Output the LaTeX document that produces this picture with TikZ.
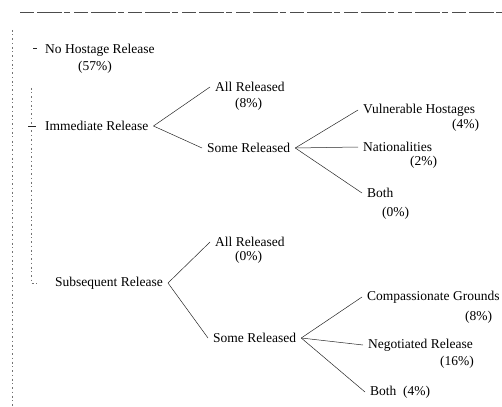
\documentclass[tikz,border=0pt]{standalone}
\usepackage{fontspec}
\setmainfont{Liberation Serif}
\usetikzlibrary{positioning}

\begin{document}
\begin{tikzpicture}
    [
        x=1pt, y=-1pt,
        tree_node/.style={anchor=west, inner xsep=5pt, inner ysep=1pt, font=\fontsize{13.5}{15}\selectfont},
        pct_node/.style={anchor=west, inner sep=0pt, font=\fontsize{13.5}{15}\selectfont},
        tree_line/.style={line width=0.5pt, color=black!85},
        scan_line/.style={line width=0.6pt, color=black!55, dash pattern=on 2pt off 2.5pt on 1pt off 3pt},
        rule_line/.style={line width=0.8pt, color=black!70, dash pattern=on 14pt off 3pt on 25pt off 2pt on 6pt off 4pt},
    ]
        \useasboundingbox (0,0) rectangle (502,406) ;
        \coordinate (ruleL) at (20,12) ;
        \coordinate (ruleR) at (502,12) ;
        \coordinate (edgeT) at (12,30) ;
        \coordinate (edgeB) at (12,406) ;
        \coordinate (brkT) at (31,88) ;
        \coordinate (brkB) at (31,283) ;
        \coordinate (brkE) at (38,283) ;
        \coordinate (tickA) at (33,48) ;
        \coordinate (tickB) at (37,48) ;
        \coordinate (tickC) at (28,126) ;
        \coordinate (tickD) at (36,126) ;
        \node[tree_node] (nohost) at (40,50) {No Hostage Release} ;
        \node[pct_node] (nohostp) at (78,67) {(57\%)} ;
        \node[tree_node] (imm) at (40,126) {Immediate Release} ;
        \node[tree_node] (allI) at (210,87) {All Released} ;
        \node[pct_node] (allIp) at (235,104) {(8\%)} ;
        \node[tree_node] (someI) at (202,148) {Some Released} ;
        \node[tree_node] (vuln) at (358,110) {Vulnerable Hostages} ;
        \node[pct_node] (vulnp) at (452,125) {(4\%)} ;
        \node[tree_node] (nat) at (358,147) {Nationalities} ;
        \node[pct_node] (natp) at (410,162) {(2\%)} ;
        \node[tree_node] (bothI) at (362,193) {Both} ;
        \node[pct_node] (bothIp) at (382,213) {(0\%)} ;
        \node[tree_node] (subs) at (50,283) {Subsequent Release} ;
        \node[tree_node] (allS) at (210,242) {All Released} ;
        \node[pct_node] (allSp) at (235,257) {(0\%)} ;
        \node[tree_node] (someS) at (208,338) {Some Released} ;
        \node[tree_node] (comp) at (362,297) {Compassionate Grounds} ;
        \node[pct_node] (compp) at (465,317) {(8\%)} ;
        \node[tree_node] (neg) at (363,345) {Negotiated Release} ;
        \node[pct_node] (negp) at (440,362) {(16\%)} ;
        \node[tree_node] (bothS) at (365,392) {Both\ \ (4\%)} ;
        \draw[rule_line] (ruleL) -- (ruleR) ;
        \draw[scan_line] (edgeT) -- (edgeB) ;
        \draw[scan_line] (brkT) -- (brkB) -- (brkE) ;
        \draw[tree_line] (tickA) -- (tickB) ;
        \draw[tree_line] (tickC) -- (tickD) ;
        \draw[tree_line] (imm.east) -- (allI.west) ;
        \draw[tree_line] (imm.east) -- (someI.west) ;
        \draw[tree_line] (someI.east) -- (vuln.west) ;
        \draw[tree_line] (someI.east) -- (nat.west) ;
        \draw[tree_line] (someI.east) -- (bothI.west) ;
        \draw[tree_line] (subs.east) -- (allS.west) ;
        \draw[tree_line] (subs.east) -- (someS.west) ;
        \draw[tree_line] (someS.east) -- (comp.west) ;
        \draw[tree_line] (someS.east) -- (neg.west) ;
        \draw[tree_line] (someS.east) -- (bothS.west) ;
    \end{tikzpicture}
\end{document}
